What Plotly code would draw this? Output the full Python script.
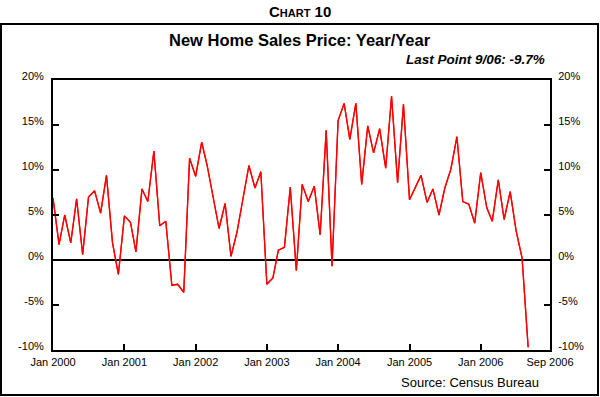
import pandas as pd
import plotly.graph_objects as go

# ---- data ----
start_month = "2000-01-01"
yoy_pct = [6.9, 1.7, 5.0, 1.9, 6.8, 0.6, 7.0, 7.7, 5.2, 9.4, 1.9, -1.6,
           4.9, 4.2, 0.9, 7.9, 6.5, 12.1, 3.8, 4.3, -2.8, -2.7, -3.6, 11.3,
           9.3, 13.1, 10.5, 7.0, 3.5, 6.3, 0.4, 3.1, 6.9, 10.5, 8.0, 9.8,
           -2.7, -2.0, 1.1, 1.4, 8.1, -1.2, 8.4, 6.5, 8.2, 2.8, 14.4, -0.7,
           15.5, 17.4, 13.4, 17.4, 8.4, 14.9, 11.9, 14.6, 10.2, 18.2, 8.6, 17.3,
           6.7, 8.1, 9.4, 6.4, 7.9, 5.0, 8.0, 10.1, 13.7, 6.5, 6.2, 4.1,
           9.7, 5.8, 4.3, 8.9, 4.5, 7.6, 3.3, 0.2, -9.7]
months = pd.date_range(start_month, periods=len(yoy_pct), freq="MS")

x_tick_vals = ["2000-01-01", "2001-01-01", "2002-01-01", "2003-01-01",
               "2004-01-01", "2005-01-01", "2006-01-01", "2006-12-22"]
x_tick_text = ["Jan 2000", "Jan 2001", "Jan 2002", "Jan 2003",
               "Jan 2004", "Jan 2005", "Jan 2006", "Sep 2006"]
y_tick_vals = [-10, -5, 0, 5, 10, 15, 20]
y_tick_text = ["-10%", "-5%", "0%", "5%", "10%", "15%", "20%"]
x_range = ["2000-01-01", "2006-12-22"]
y_range = [-10, 20]

FONT = "Arial, 'Liberation Sans', sans-serif"

fig = go.Figure()
fig.add_trace(go.Scatter(x=months, y=yoy_pct, mode="lines",
                         line=dict(color="#ff0000", width=1.3),
                         showlegend=False, hoverinfo="x+y"))
# copy on the right-hand axis so its labels render
fig.add_trace(go.Scatter(x=months, y=yoy_pct, mode="lines", yaxis="y2",
                         line=dict(color="#ff0000", width=1.3),
                         showlegend=False, hoverinfo="skip"))

axis_common = dict(showgrid=False, showline=True, linecolor="black", linewidth=2,
                   ticks="inside", ticklen=6, tickwidth=2, tickcolor="black",
                   tickfont=dict(family=FONT, size=11, color="#000000"))

fig.update_layout(
    width=600, height=397,
    margin=dict(l=53, r=50, t=80, b=47),
    paper_bgcolor="white", plot_bgcolor="white",
    font=dict(family=FONT, color="#000000"),
    xaxis=dict(**axis_common, type="date", range=x_range, mirror=True,
               tickmode="array", tickvals=x_tick_vals, ticktext=x_tick_text,
               zeroline=False, ticklabelstandoff=1),
    yaxis=dict(**axis_common, range=y_range, tickmode="array",
               tickvals=y_tick_vals, ticktext=y_tick_text,
               zeroline=True, zerolinecolor="black", zerolinewidth=2,
               ticklabelshift=-4, ticklabelstandoff=5),
    yaxis2=dict(**axis_common, range=y_range, overlaying="y", side="right",
                tickmode="array", tickvals=y_tick_vals, ticktext=y_tick_text,
                zeroline=False, ticklabelshift=-4, ticklabelstandoff=4),
)

# outer frame
fig.add_shape(type="rect", xref="paper", yref="paper",
              x0=(1 - 53) / 497, x1=(598 - 53) / 497,
              y0=(350 - 395) / 270, y1=(350 - 24) / 270,
              line=dict(color="black", width=2), fillcolor="rgba(0,0,0,0)", layer="below")

fig.add_annotation(text="<b>C<span style='font-size:11px'>HART</span> 10</b>",
                   xref="paper", yref="paper", x=(300 - 53) / 497, y=(350 - 11) / 270,
                   showarrow=False, xanchor="center", yanchor="middle",
                   font=dict(family=FONT, size=15, color="black"))
fig.add_annotation(text="<b>New Home Sales Price: Year/Year</b>",
                   xref="paper", yref="paper", x=(300 - 53) / 497, y=(350 - 40) / 270,
                   showarrow=False, xanchor="center", yanchor="middle",
                   font=dict(family=FONT, size=16.5, color="black"))
fig.add_annotation(text="<b><i>Last Point 9/06: -9.7%</i></b>",
                   xref="paper", yref="paper", x=(547 - 53) / 497, y=(350 - 60) / 270,
                   showarrow=False, xanchor="right", yanchor="middle",
                   font=dict(family=FONT, size=13.5, color="black"))
fig.add_annotation(text="Source: Census Bureau",
                   xref="paper", yref="paper", x=(541 - 53) / 497, y=(350 - 382) / 270,
                   showarrow=False, xanchor="right", yanchor="middle",
                   font=dict(family=FONT, size=13, color="black"))

fig.write_html("out.html", config={"displayModeBar": False},
               post_script="document.body.style.margin='0';")
